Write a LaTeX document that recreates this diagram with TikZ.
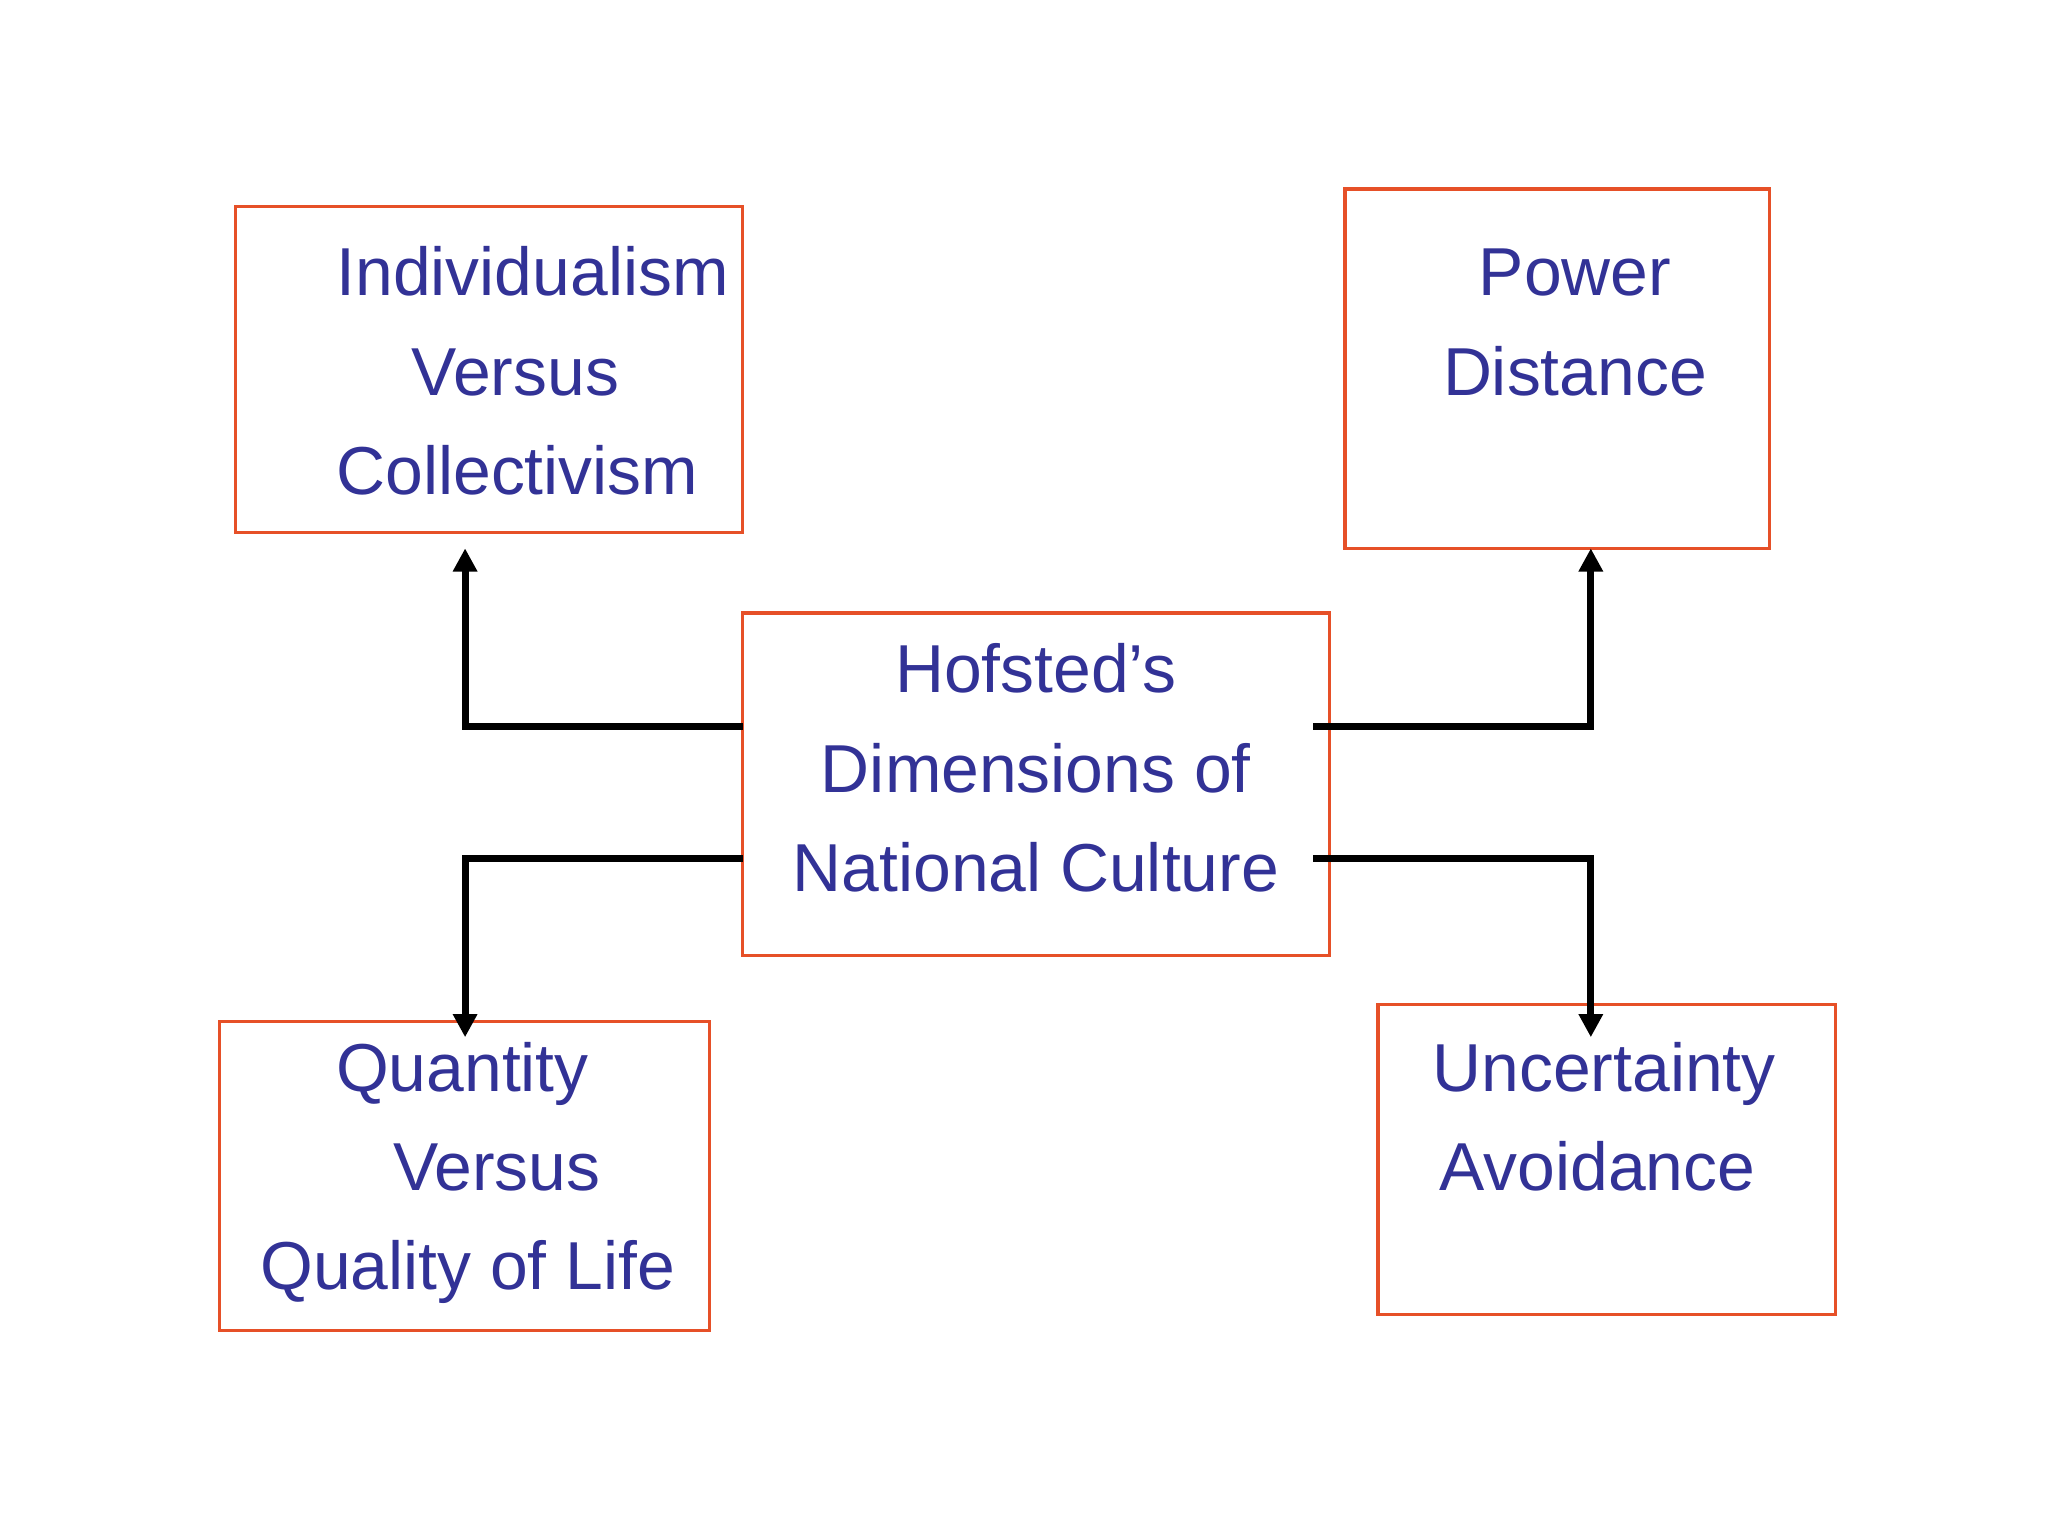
\documentclass[tikz,border=0pt]{standalone}
\usepackage{fontspec}
\setmainfont{Liberation Sans}
\usetikzlibrary{arrows.meta}
\definecolor{txt}{RGB}{50,50,150}
\definecolor{bord}{RGB}{230,80,40}
\begin{document}
\begin{tikzpicture}[x=0.01cm,y=-0.01cm,
  box/.style={draw=bord,line width=0.7pt},
  lbl/.style={text=txt,font=\fontsize{14.6}{18}\selectfont,inner sep=0pt,anchor=base},
  conn/.style={line width=1.5pt,-{Triangle[length=5pt,width=5pt]}}]
\useasboundingbox (0,0) rectangle (1550,1162);
\draw[box] (178,156) rectangle (562,403);
\draw[box] (1018,143) rectangle (1339,415);
\draw[box] (562,464) rectangle (1006,723);
\draw[box] (166,773) rectangle (537,1007);
\draw[box] (1043,760) rectangle (1389,995);
\node[lbl,anchor=base west] (a1) at (254,224) {Individualism};
\node[lbl] (a2) at (390,299) {Versus};
\node[lbl,anchor=base west] (a3) at (254,374) {Collectivism};
\node[lbl] (b1) at (1192,224) {Power};
\node[lbl] (b2) at (1192,299) {Distance};
\node[lbl] (c1) at (784,524) {Hofsted’s};
\node[lbl] (c2) at (784,600) {Dimensions of};
\node[lbl] (c3) at (784,675) {National Culture};
\node[lbl] (d1) at (350,826) {Quantity};
\node[lbl] (d2) at (376,901) {Versus};
\node[lbl] (d3) at (354,976) {Quality of Life};
\node[lbl] (e1) at (1214,826) {Uncertainty};
\node[lbl] (e2) at (1209,901) {Avoidance};
\coordinate (p1) at (562,550); \coordinate (t1) at (352,415);
\coordinate (p2) at (994,550); \coordinate (t2) at (1204,415);
\coordinate (p3) at (562,650); \coordinate (t3) at (352,785);
\coordinate (p4) at (994,650); \coordinate (t4) at (1204,785);
\draw[conn] (p1) -| (t1);
\draw[conn] (p2) -| (t2);
\draw[conn] (p3) -| (t3);
\draw[conn] (p4) -| (t4);
\end{tikzpicture}
\end{document}
